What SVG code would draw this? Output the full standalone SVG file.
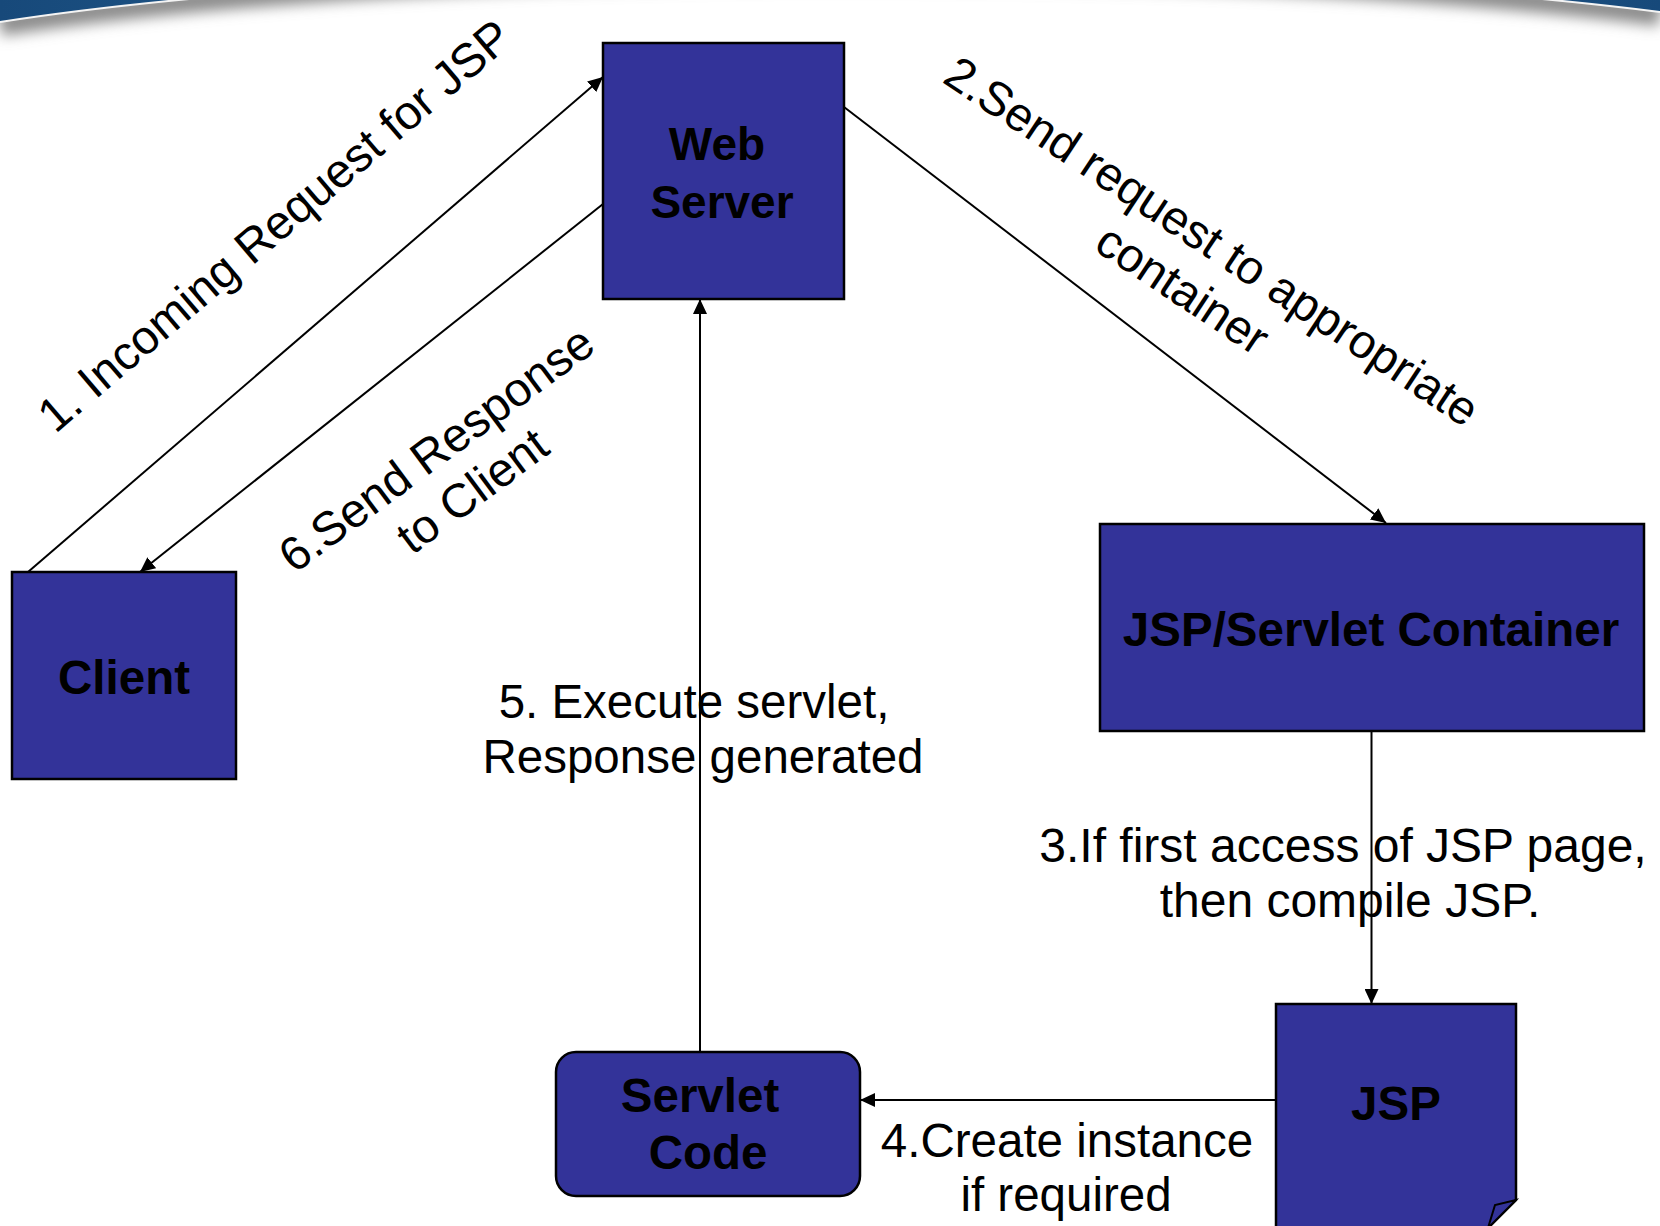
<svg xmlns="http://www.w3.org/2000/svg" width="1660" height="1226" viewBox="0 0 1660 1226">
  <style>
    .box { fill: #333399; stroke: #000; stroke-width: 2.5; }
    .name { font-family: "Liberation Sans", Arial, sans-serif; font-weight: bold; font-size: 47.5px; fill: #000; text-anchor: middle; }
    .lbl { font-family: "Liberation Sans", Arial, sans-serif; font-size: 47.5px; fill: #000; text-anchor: middle; }
    .wire { fill: none; stroke: #000; stroke-width: 2; }
  </style>
  <defs>
    <marker id="head" markerUnits="userSpaceOnUse" markerWidth="15" markerHeight="14" refX="15" refY="7" orient="auto">
      <path d="M0,0 L15,7 L0,14 Z" fill="#000"/>
    </marker>
    <linearGradient id="band" x1="0" y1="0" x2="1" y2="0">
      <stop offset="0" stop-color="#17497a"/>
      <stop offset="0.5" stop-color="#2a6a9e"/>
      <stop offset="1" stop-color="#17497a"/>
    </linearGradient>
    <clipPath id="sheet">
      <path d="M0,1226 L0,22 A1100,134 0 0 1 1660,12 L1660,1226 Z"/>
    </clipPath>
    <filter id="soft" x="-10%" y="-200%" width="120%" height="500%">
      <feGaussianBlur stdDeviation="7"/>
    </filter>
  </defs>

  <!-- page backdrop: blue header band with a curved white sheet over it -->
  <rect x="0" y="0" width="1660" height="1226" fill="#fff"/>
  <rect x="0" y="0" width="1660" height="70" fill="url(#band)"/>
  <path d="M0,1226 L0,22 A1100,134 0 0 1 1660,12 L1660,1226 Z" fill="#fff"/>
  <g clip-path="url(#sheet)">
    <path d="M0,24 A1100,134 0 0 1 1660,14" fill="none" stroke="#8c8c8c" stroke-width="24" filter="url(#soft)"/>
  </g>
  <path d="M0,22 A1100,134 0 0 1 1660,12" fill="none" stroke="#f4f4f4" stroke-width="2"/>

  <!-- connectors -->
  <g id="connectors">
    <line class="wire" x1="28" y1="572" x2="603" y2="77" marker-end="url(#head)"/>
    <line class="wire" x1="844" y1="107" x2="1386" y2="523" marker-end="url(#head)"/>
    <line class="wire" x1="1371.5" y1="731" x2="1371.5" y2="1004" marker-end="url(#head)"/>
    <line class="wire" x1="1276" y1="1100" x2="860" y2="1100" marker-end="url(#head)"/>
    <line class="wire" x1="700" y1="1052" x2="700" y2="299" marker-end="url(#head)"/>
    <line class="wire" x1="603" y1="204" x2="140" y2="572" marker-end="url(#head)"/>
  </g>

  <!-- connector labels -->
  <g id="labels">
    <text class="lbl" transform="translate(285,238) rotate(-40.5)" x="0" y="0">1. Incoming Request for JSP</text>
    <g transform="translate(1203,255) rotate(33.5)">
      <text class="lbl" x="0" y="0">2.Send request to appropriate</text>
      <text class="lbl" x="2" y="56">container</text>
    </g>
    <text class="lbl" x="1343" y="862" style="font-size:48px">3.If first access of JSP page,</text>
    <text class="lbl" x="1350" y="917" style="font-size:48px">then compile JSP.</text>
    <text class="lbl" x="1067" y="1157">4.Create instance</text>
    <text class="lbl" x="1066" y="1211">if required</text>
    <text class="lbl" x="694" y="718">5. Execute servlet,</text>
    <text class="lbl" x="703" y="773">Response generated</text>
    <g transform="translate(446,462) rotate(-36.5)">
      <text class="lbl" x="0" y="0">6.Send Response</text>
      <text class="lbl" x="4" y="55">to Client</text>
    </g>
  </g>

  <!-- nodes -->
  <g id="web-server">
    <rect class="box" x="603" y="43" width="241" height="256"/>
    <text class="name" x="717" y="160" style="font-size:46px">Web</text>
    <text class="name" x="722" y="218" style="font-size:46px">Server</text>
  </g>
  <g id="client">
    <rect class="box" x="12" y="572" width="224" height="207"/>
    <text class="name" x="124" y="694">Client</text>
  </g>
  <g id="container">
    <rect class="box" x="1100" y="524" width="544" height="207"/>
    <text class="name" x="1371" y="646">JSP/Servlet Container</text>
  </g>
  <g id="servlet-code">
    <rect class="box" x="556" y="1052" width="304" height="144" rx="20" ry="20"/>
    <text class="name" x="700" y="1112">Servlet</text>
    <text class="name" x="708" y="1169">Code</text>
  </g>
  <g id="jsp">
    <path class="box" d="M1276,1004 H1516 V1200 L1488,1228 H1276 Z"/>
    <path class="box" d="M1516,1200 L1495,1205 L1488,1228 Z" style="stroke-width:2"/>
    <text class="name" x="1396" y="1120">JSP</text>
  </g>
</svg>
